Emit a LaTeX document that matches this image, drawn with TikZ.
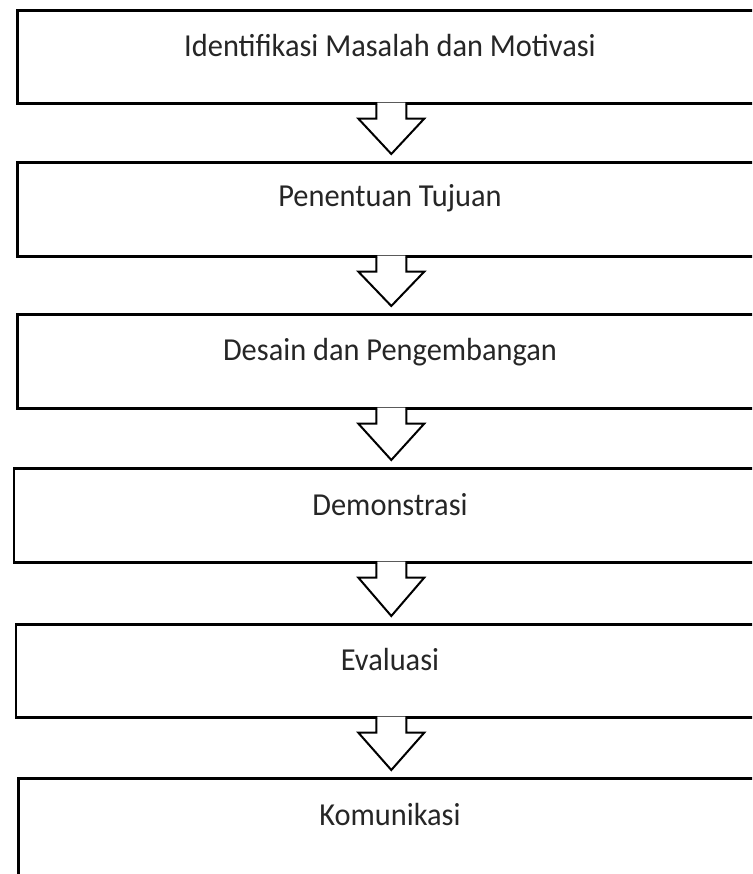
\documentclass[tikz,border=0pt]{standalone}
\usepackage{fontspec}
\setmainfont{Carlito}[FakeStretch=0.95]
\usetikzlibrary{calc}

\tikzset{
  stagebox/.style={draw=black, line width=2.6pt, fill=white, rectangle,
    inner sep=0pt, anchor=north west},
  stagetext/.style={font=\fontsize{32}{38}\selectfont, text=black!85,
    inner sep=0pt, anchor=base},
  flowline/.style={draw=black, line width=2pt, line join=miter},
}

% hollow block arrow from the bottom of one box towards the top of the next
\newcommand\blockarrow[2]{%
  \fill[white] ($(#1.south)+(-14,-2)$) -- ($(#1.south)+(-14,14)$)
    -- ($(#1.south)+(-33,14)$) -- ($(#2.north)+(0,-7)$)
    -- ($(#1.south)+(33,14)$) -- ($(#1.south)+(14,14)$)
    -- ($(#1.south)+(14,-2)$) -- cycle;
  \draw[flowline] ($(#1.south)+(-15,0)$) -- ($(#1.south)+(-15,14)$)
    -- ($(#1.south)+(-33,14)$) -- ($(#2.north)+(0,-7)$)
    -- ($(#1.south)+(33,14)$) -- ($(#1.south)+(15,14)$)
    -- ($(#1.south)+(15,0)$);
}

\begin{document}
\begin{tikzpicture}[x=1pt, y=-1pt]
  \useasboundingbox (0,0) rectangle (752,874);
  \clip (0,0) rectangle (752,874);
  \fill[white] (0,0) rectangle (752,874);

  % stage boxes; each is centred on x = 390 and runs past the right edge
  \node[stagebox, minimum width=748pt, minimum height=92.5pt] (b1) at (16,9.5) {};
  \node[stagebox, minimum width=748pt, minimum height=94pt]   (b2) at (16,161) {};
  \node[stagebox, minimum width=748pt, minimum height=94pt]   (b3) at (16,313) {};
  \node[stagebox, minimum width=754.6pt, minimum height=94pt] (b4) at (12.7,467) {};
  \node[stagebox, minimum width=750.6pt, minimum height=93pt] (b5) at (14.7,623) {};
  \node[stagebox, minimum width=745.4pt, minimum height=120pt] (b6) at (17.3,777) {};

  \node[stagetext] (t1) at (390,57)  {Identifikasi Masalah dan Motivasi};
  \node[stagetext] (t2) at (390,207) {Penentuan Tujuan};
  \node[stagetext] (t3) at (390,360) {Desain dan Pengembangan};
  \node[stagetext] (t4) at (390,515) {Demonstrasi};
  \node[stagetext] (t5) at (390,670) {Evaluasi};
  \node[stagetext] (t6) at (390,825) {Komunikasi};

  \blockarrow{b1}{b2}
  \blockarrow{b2}{b3}
  \blockarrow{b3}{b4}
  \blockarrow{b4}{b5}
  \blockarrow{b5}{b6}
\end{tikzpicture}
\end{document}
